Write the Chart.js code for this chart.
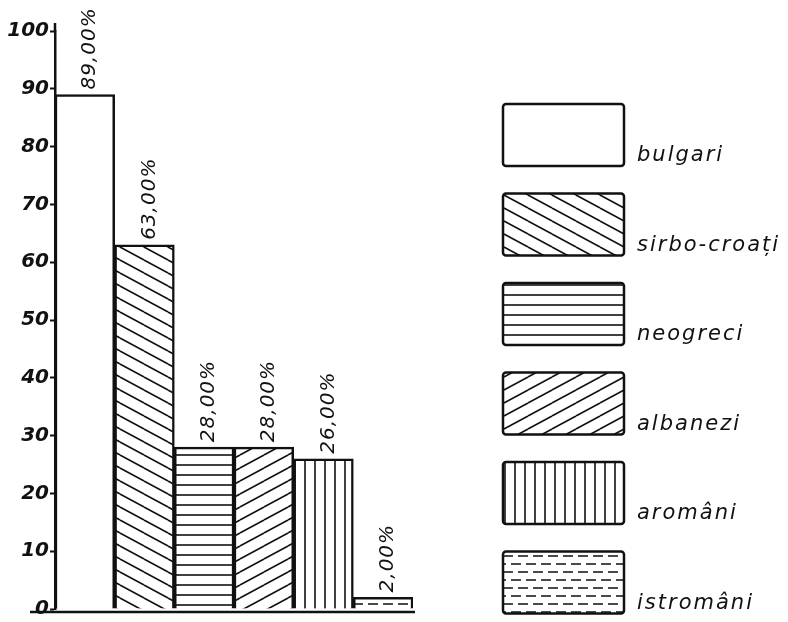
<!DOCTYPE html>
<html>
<head>
<meta charset="utf-8">
<script src="https://cdn.jsdelivr.net/npm/chart.js@4.4.0/dist/chart.umd.min.js"></script>
<style>
  html, body { margin: 0; padding: 0; background: #fff; }
  #wrap { width: 788px; height: 622px; position: relative; }
</style>
</head>
<body>
<div id="wrap"><canvas id="chart"></canvas></div>
<script>
const categories = ['bulgari', 'sirbo-croați', 'neogreci', 'albanezi', 'aromâni', 'istromâni'];
const shares = [89, 63, 28, 28, 26, 2];
const hatchKinds = ['none', 'back', 'horiz', 'fwd', 'vert', 'dash'];
const yMin = 0, yMax = 100, yStep = 10;

const INK = '#111';

function makePattern(kind) {
  const c = document.createElement('canvas');
  const g = c.getContext('2d');
  let w = 10, h = 10;
  if (kind === 'back' || kind === 'fwd') { w = 24; h = 13; }
  if (kind === 'horiz') { w = 10; h = 10.5; }
  if (kind === 'vert') { w = 10; h = 10; }
  if (kind === 'dash') { w = 30; h = 16; }
  c.width = w; c.height = h;
  g.fillStyle = '#fff';
  g.fillRect(0, 0, w, h);
  g.strokeStyle = INK;
  g.lineWidth = 1.6;
  g.beginPath();
  if (kind === 'back') {
    for (let k = -1; k <= 1; k++) { g.moveTo(0, k * h); g.lineTo(w, k * h + h); }
  } else if (kind === 'fwd') {
    for (let k = -1; k <= 1; k++) { g.moveTo(0, k * h + h); g.lineTo(w, k * h); }
  } else if (kind === 'horiz') {
    g.moveTo(0, 5); g.lineTo(w, 5);
  } else if (kind === 'vert') {
    g.moveTo(5, 0); g.lineTo(5, h);
  } else if (kind === 'dash') {
    g.lineWidth = 1.4;
    g.moveTo(1, 4); g.lineTo(11, 4);
    g.moveTo(16, 4); g.lineTo(26, 4);
    g.moveTo(8, 12); g.lineTo(18, 12);
    g.moveTo(23, 12); g.lineTo(30, 12);
    g.moveTo(0, 12); g.lineTo(3, 12);
  }
  g.stroke();
  return g.createPattern(c, 'repeat');
}

const fills = hatchKinds.map(k => k === 'none' ? '#fff' : makePattern(k));

// rotated percentage labels above each bar
const valueLabels = {
  id: 'valueLabels',
  afterDatasetsDraw(chart) {
    const ctx = chart.ctx;
    const meta = chart.getDatasetMeta(0);
    ctx.save();
    ctx.fillStyle = INK;
    ctx.font = 'italic 20px "DejaVu Sans"';
    ctx.letterSpacing = '1px';
    ctx.textAlign = 'left';
    ctx.textBaseline = 'middle';
    meta.data.forEach((bar, i) => {
      ctx.save();
      ctx.translate(bar.x + 5, bar.y - 5);
      ctx.rotate(-Math.PI / 2);
      ctx.fillText(shares[i].toFixed(2).replace('.', ',') + '%', 0, 0);
      ctx.restore();
    });
    ctx.restore();
  }
};

// baseline under the bars, running a bit left of the axis
const baseline = {
  id: 'baseline',
  afterDraw(chart) {
    const { ctx, chartArea } = chart;
    ctx.save();
    ctx.strokeStyle = INK;
    ctx.lineWidth = 2.5;
    ctx.beginPath();
    ctx.moveTo(chartArea.left - 25, chartArea.bottom + 3);
    ctx.lineTo(chartArea.right + 2, chartArea.bottom + 3);
    ctx.moveTo(chartArea.left, chartArea.top);
    ctx.lineTo(chartArea.left, chartArea.top - 8);
    ctx.stroke();
    ctx.restore();
  }
};

// legend drawn as big swatches with labels on the right
const sideLegend = {
  id: 'sideLegend',
  afterDraw(chart) {
    const ctx = chart.ctx;
    const boxX = 503, boxW = 121, boxH = 62, top0 = 104, gap = 89.5;
    ctx.save();
    categories.forEach((name, i) => {
      const y = top0 + i * gap;
      ctx.beginPath();
      ctx.roundRect(boxX, y, boxW, boxH, 3);
      ctx.fillStyle = fills[i];
      ctx.fill();
      ctx.lineWidth = 2.5;
      ctx.strokeStyle = INK;
      ctx.stroke();
      ctx.fillStyle = INK;
      ctx.font = 'italic 21px "DejaVu Sans"';
      ctx.letterSpacing = '2px';
      ctx.textAlign = 'left';
      ctx.textBaseline = 'alphabetic';
      ctx.fillText(name, boxX + boxW + 13, y + boxH - 5);
    });
    ctx.restore();
  }
};

new Chart(document.getElementById('chart'), {
  type: 'bar',
  data: {
    labels: categories,
    datasets: [{
      data: shares,
      backgroundColor: fills,
      borderColor: INK,
      borderWidth: 2.5,
      borderSkipped: 'bottom',
      barPercentage: 1,
      categoryPercentage: 1
    }]
  },
  options: {
    responsive: true,
    maintainAspectRatio: false,
    animation: false,
    layout: { padding: { top: 31, right: 375, bottom: 9, left: 0 } },
    plugins: { legend: { display: false }, tooltip: { enabled: false } },
    scales: {
      x: { display: false },
      y: {
        min: yMin, max: yMax,
        afterFit(scale) { scale.width = 55; },
        ticks: {
          stepSize: yStep,
          color: INK,
          padding: 1,
          font: { family: 'DejaVu Sans', size: 20, style: 'italic', weight: 'bold' }
        },
        grid: { drawOnChartArea: false, tickLength: 5, tickWidth: 2, color: INK },
        border: { color: INK, width: 2.5 }
      }
    }
  },
  plugins: [valueLabels, baseline, sideLegend]
});
</script>
</body>
</html>
